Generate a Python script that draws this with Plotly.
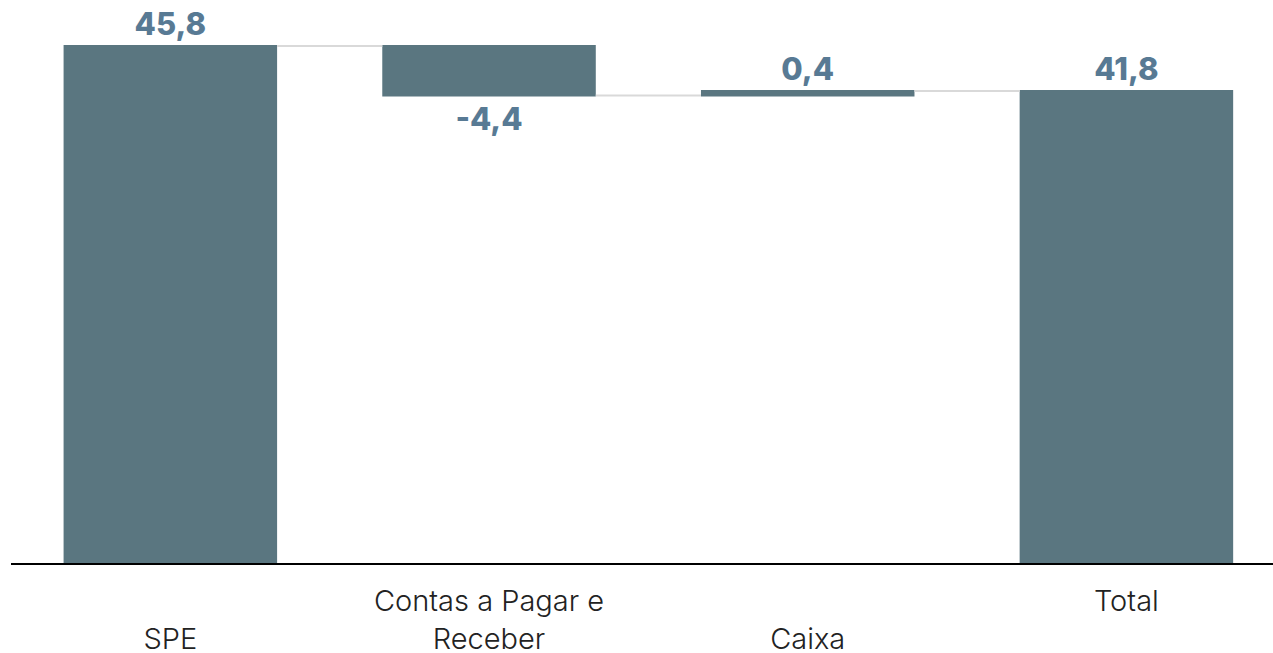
import plotly.graph_objects as go

categories = ["SPE", "Contas a Pagar e Receber", "Caixa", "Total"]
measures = ["absolute", "relative", "relative", "total"]
values = [45.8, -4.4, 0.4, 41.8]
value_labels = ["45,8", "-4,4", "0,4", "41,8"]
tick_labels = [" <br>SPE", "Contas a Pagar e<br>Receber", " <br>Caixa", "Total<br> "]

bar_color = "#5a7680"
label_color = "#587a94"

fig = go.Figure(go.Waterfall(
    x=categories,
    y=values,
    measure=measures,
    text=value_labels,
    textposition="outside",
    textfont=dict(family="Inter", size=31, color=label_color, weight=800),
    width=0.67,
    increasing=dict(marker=dict(color=bar_color)),
    decreasing=dict(marker=dict(color=bar_color)),
    totals=dict(marker=dict(color=bar_color)),
    connector=dict(mode="between", line=dict(color="#d9d9d9", width=2)),
    cliponaxis=False,
))

fig.update_layout(
    width=1273, height=661,
    margin=dict(l=11, r=0, t=8, b=98),
    plot_bgcolor="white", paper_bgcolor="white",
    showlegend=False,
    font=dict(family="Inter", size=29, color="#222222"),
    xaxis=dict(
        range=[-0.5, 3.46],
        tickmode="array", tickvals=categories, ticktext=tick_labels,
        showline=True, linecolor="black", linewidth=2,
        showgrid=False, ticks="", automargin=False,
        ticklabelstandoff=11,
        tickfont=dict(family="Inter", size=29, color="#222222", weight=300),
    ),
    yaxis=dict(
        range=[0, 49.16],
        visible=False, showgrid=False, zeroline=False,
    ),
)

fig.write_html(
    "out.html",
    config={"displayModeBar": False},
    post_script="document.body.style.margin='0';",
)
